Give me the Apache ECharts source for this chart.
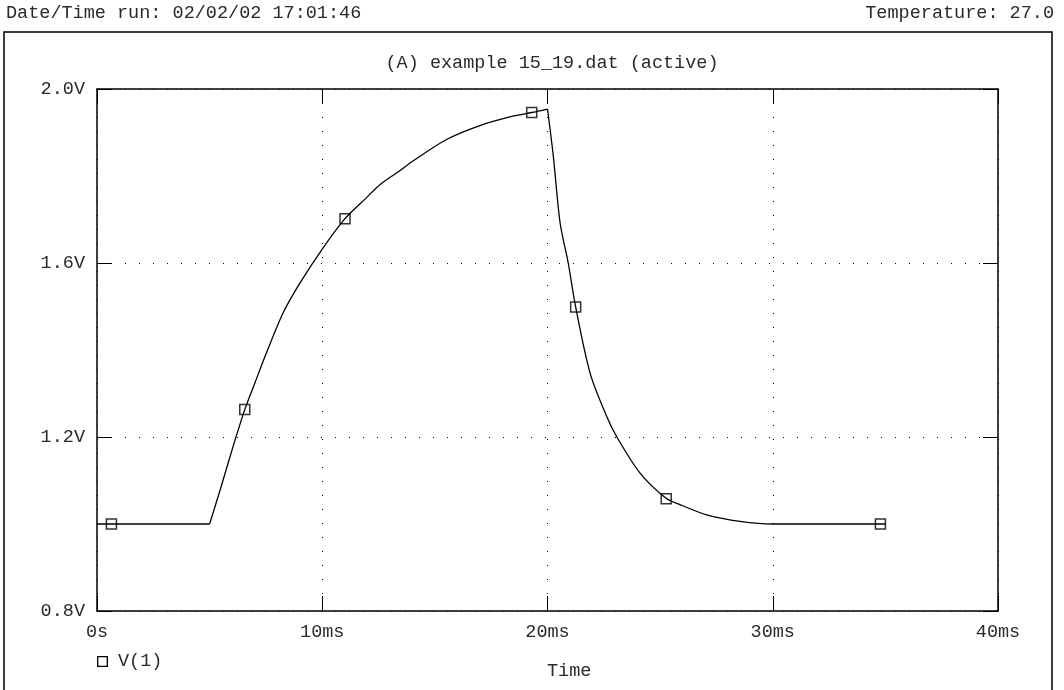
<!DOCTYPE html>
<html>
<head>
<meta charset="utf-8">
<script src="https://cdn.jsdelivr.net/npm/echarts@6/dist/echarts.min.js"></script>
<style>html,body{margin:0;padding:0;background:#fff;}#c{width:1064px;height:690px;}</style>
</head>
<body>
<div id="c"></div>
<script>
// Trace V(1): time in ms, voltage in V, in three pieces
var flatTime  = [0, 5.0];
var flatVolts = [1.0, 1.0];
var riseTime  = [5.0, 5.5, 6.04, 6.56, 7.0, 7.52, 8.26, 9.0, 10.0, 11.01, 12.0, 12.56, 13.44, 14.04, 15.52, 17.0, 18.5, 19.3, 20.0];
var riseVolts = [1.0, 1.084, 1.178, 1.263, 1.323, 1.393, 1.485, 1.553, 1.632, 1.702, 1.752, 1.78, 1.812, 1.835, 1.884, 1.916, 1.938, 1.946, 1.954];
var fallTime  = [20.0, 20.26, 20.56, 20.92, 21.25, 21.89, 22.63, 23.08, 24.11, 25.25, 26.0, 27.07, 28.55, 30.04, 35.0];
var fallVolts = [1.954, 1.845, 1.692, 1.6, 1.499, 1.347, 1.247, 1.2, 1.117, 1.06, 1.042, 1.021, 1.006, 1.0, 1.0];
// Marker points on the trace
var markTime  = [0.64, 6.56, 11.01, 19.3, 21.25, 25.27, 34.78];
var markVolts = [1.0, 1.263, 1.702, 1.946, 1.499, 1.058, 1.0];
// Tick labels
var xTickLabels = ['0s', '10ms', '20ms', '30ms', '40ms'];
var yTickLabels = ['0.8V', '1.2V', '1.6V', '2.0V'];
var seriesName = 'V(1)';
var titleText = '(A) example 15_19.dat (active)';
var headerLeft = 'Date/Time run: 02/02/02 17:01:46';
var headerRight = 'Temperature: 27.0';
var xAxisTitle = 'Time';

var FONT = '"Liberation Mono", "Courier New", monospace';
var FS = 18.5;
var TXT = '#2a2a2a';

function pairs(xs, ys) { return xs.map(function (x, i) { return [x, ys[i]]; }); }

var chart = echarts.init(document.getElementById('c'), null, {renderer: 'canvas'});
var axisLine = {show: true, onZero: false, lineStyle: {color: '#000', width: 1.5}};
var tick = {show: true, inside: true, length: 15, lineStyle: {color: '#000', width: 1}};
var split = {show: true, lineStyle: {color: '#000', width: 1, type: [1, 13]}};
var lineBase = {name: seriesName, type: 'line', showSymbol: false, symbol: 'none',
  lineStyle: {color: '#000', width: 1.3}, itemStyle: {color: '#000'}, z: 3};

chart.setOption({
  animation: false,
  backgroundColor: '#fff',
  textStyle: {fontFamily: FONT},
  grid: {left: 97, right: 66, top: 89, bottom: 79},
  title: {
    text: titleText, left: 547, top: 49, textAlign: 'center',
    textStyle: {fontFamily: FONT, fontSize: FS, fontWeight: 'normal', color: TXT}
  },
  legend: {
    data: [seriesName], left: 92, top: 647, itemWidth: 11, itemHeight: 11, itemGap: 8,
    icon: 'path://M0,0H10V10H0Z M1.2,1.2V8.8H8.8V1.2Z',
    itemStyle: {color: '#000', borderWidth: 0},
    textStyle: {fontFamily: FONT, fontSize: FS, color: TXT, padding: [0, 0, 0, 5]}
  },
  graphic: [
    {type: 'rect', shape: {x: 4, y: 32, width: 1048, height: 700}, style: {fill: 'none', stroke: '#000', lineWidth: 1.5}, silent: true},
    {type: 'text', left: 6, top: 4, style: {text: headerLeft, font: FS + 'px ' + FONT, fill: TXT}},
    {type: 'text', right: 10, top: 4, style: {text: headerRight, font: FS + 'px ' + FONT, fill: TXT}},
    {type: 'text', left: 547, top: 662, style: {text: xAxisTitle, font: FS + 'px ' + FONT, fill: TXT, textAlign: 'center'}}
  ],
  xAxis: [
    {type: 'value', min: 0, max: 40, interval: 10, position: 'bottom',
     axisLine: axisLine, axisTick: tick, splitLine: split,
     axisLabel: {margin: 12, fontFamily: FONT, fontSize: FS, color: TXT,
       formatter: function (v) { return xTickLabels[Math.round(v / 10)]; }}},
    {type: 'value', min: 0, max: 40, interval: 10, position: 'top',
     axisLine: axisLine, axisTick: tick, splitLine: {show: false}, axisLabel: {show: false}}
  ],
  yAxis: [
    {type: 'value', min: 0.8, max: 2.0, interval: 0.4, position: 'left',
     axisLine: axisLine, axisTick: tick, splitLine: split,
     axisLabel: {margin: 12, fontFamily: FONT, fontSize: FS, color: TXT,
       formatter: function (v) { return yTickLabels[Math.round((v - 0.8) / 0.4)]; }}},
    {type: 'value', min: 0.8, max: 2.0, interval: 0.4, position: 'right',
     axisLine: axisLine, axisTick: tick, splitLine: {show: false}, axisLabel: {show: false}}
  ],
  series: [
    Object.assign({}, lineBase, {data: pairs(flatTime, flatVolts)}),
    Object.assign({}, lineBase, {data: pairs(riseTime, riseVolts), smooth: 0.3}),
    Object.assign({}, lineBase, {data: pairs(fallTime, fallVolts), smooth: 0.3}),
    {name: seriesName, type: 'scatter', data: pairs(markTime, markVolts), symbol: 'rect', symbolSize: 10,
     itemStyle: {color: 'rgba(0,0,0,0)', borderColor: '#000', borderWidth: 1.5}, z: 4}
  ]
});
</script>
</body>
</html>
